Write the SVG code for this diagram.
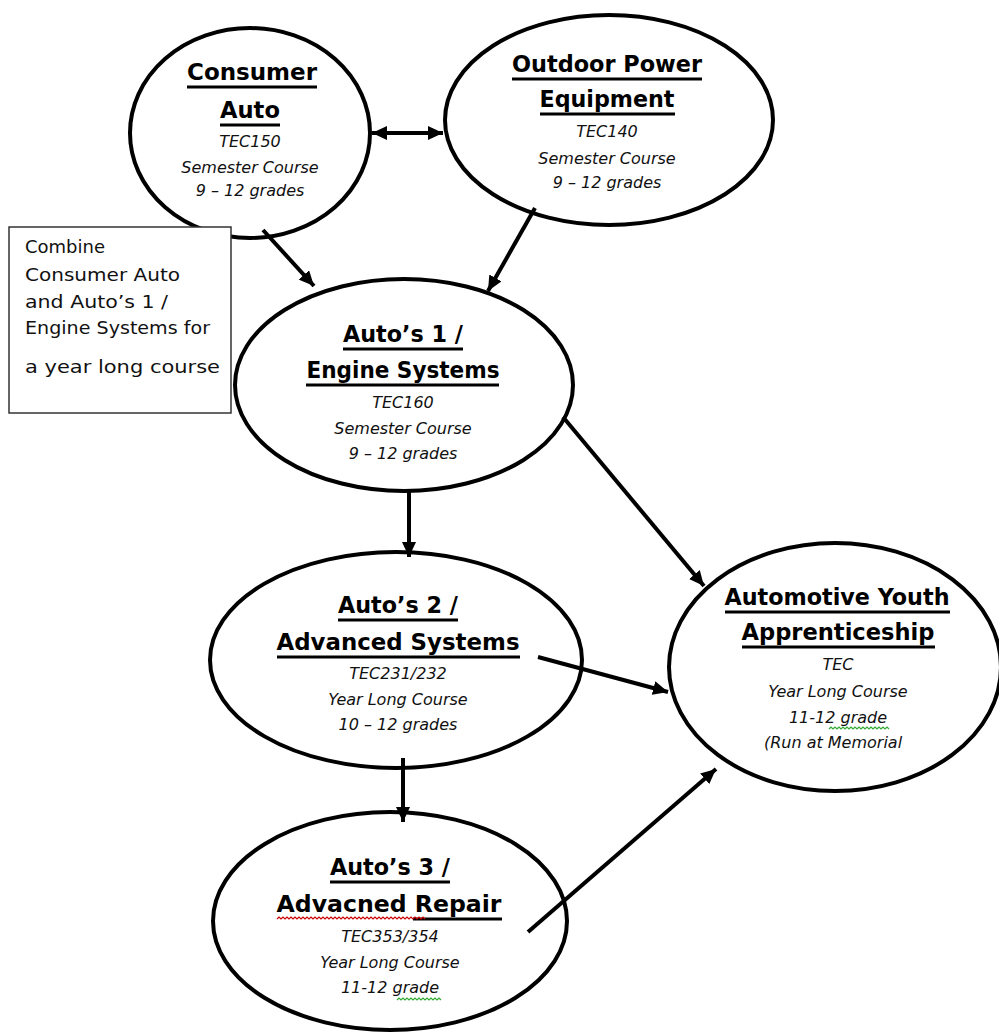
<svg xmlns="http://www.w3.org/2000/svg" width="999" height="1036" viewBox="0 0 999 1036">
<style>
.node{fill:#fff;stroke:#000;stroke-width:4}
.t{font-family:"DejaVu Sans","Liberation Sans",sans-serif;font-weight:bold;font-size:23px;fill:#000;text-anchor:middle}
.s{font-family:"DejaVu Sans","Liberation Sans",sans-serif;font-style:italic;font-size:16px;fill:#111;text-anchor:middle}
.ul{stroke:#000;stroke-width:3}
.b{font-family:"DejaVu Sans","Liberation Sans",sans-serif;font-size:18px;fill:#111}
.c{stroke:#000;stroke-width:4;fill:none}
.sq{fill:none;stroke-width:1.2}
</style>
<defs>
<marker id="ah" markerWidth="16" markerHeight="14" refX="15" refY="7" orient="auto-start-reverse" markerUnits="userSpaceOnUse"><path d="M0,0 L15,7 L0,14 z" fill="#000"/></marker>
</defs>
<rect width="999" height="1036" fill="#fff"/>

<g id="consumer-auto">
<ellipse class="node" cx="250" cy="133" rx="120" ry="105"/>
<text class="t" x="252" y="80" textLength="130" lengthAdjust="spacingAndGlyphs">Consumer</text>
<line class="ul" x1="187" y1="87" x2="317" y2="87"/>
<text class="t" x="250" y="118" textLength="60" lengthAdjust="spacingAndGlyphs">Auto</text>
<line class="ul" x1="220" y1="125" x2="280" y2="125"/>
<text class="s" x="250" y="147">TEC150</text>
<text class="s" x="250" y="173">Semester Course</text>
<text class="s" x="250" y="196">9 – 12 grades</text>
</g>

<g id="outdoor-power">
<ellipse class="node" cx="609" cy="120" rx="164" ry="105"/>
<text class="t" x="607" y="72" textLength="190" lengthAdjust="spacingAndGlyphs">Outdoor Power</text>
<line class="ul" x1="512" y1="79" x2="702" y2="79"/>
<text class="t" x="607" y="107" textLength="135" lengthAdjust="spacingAndGlyphs">Equipment</text>
<line class="ul" x1="540" y1="114" x2="675" y2="114"/>
<text class="s" x="607" y="137">TEC140</text>
<text class="s" x="607" y="164">Semester Course</text>
<text class="s" x="607" y="188">9 – 12 grades</text>
</g>

<g id="auto1">
<ellipse class="node" cx="404" cy="385" rx="169" ry="106"/>
<text class="t" x="403" y="342" textLength="120" lengthAdjust="spacingAndGlyphs">Auto’s 1 /</text>
<line class="ul" x1="343" y1="349" x2="463" y2="349"/>
<text class="t" x="403" y="378" textLength="193" lengthAdjust="spacingAndGlyphs">Engine Systems</text>
<line class="ul" x1="306" y1="385" x2="499" y2="385"/>
<text class="s" x="403" y="408">TEC160</text>
<text class="s" x="403" y="434">Semester Course</text>
<text class="s" x="403" y="459">9 – 12 grades</text>
</g>

<g id="auto2">
<ellipse class="node" cx="396" cy="660" rx="186" ry="108"/>
<text class="t" x="398" y="613" textLength="120" lengthAdjust="spacingAndGlyphs">Auto’s 2 /</text>
<line class="ul" x1="338" y1="620" x2="458" y2="620"/>
<text class="t" x="398" y="650" textLength="243" lengthAdjust="spacingAndGlyphs">Advanced Systems</text>
<line class="ul" x1="277" y1="657" x2="520" y2="657"/>
<text class="s" x="398" y="679">TEC231/232</text>
<text class="s" x="398" y="705">Year Long Course</text>
<text class="s" x="398" y="730">10 – 12 grades</text>
</g>

<g id="auto3">
<ellipse class="node" cx="390" cy="921" rx="177" ry="109"/>
<text class="t" x="390" y="875" textLength="120" lengthAdjust="spacingAndGlyphs">Auto’s 3 /</text>
<line class="ul" x1="330" y1="882" x2="450" y2="882"/>
<text class="t" x="389" y="912" textLength="225" lengthAdjust="spacingAndGlyphs">Advacned Repair</text>
<line class="ul" x1="413" y1="919" x2="502" y2="919"/>
<path class="sq" stroke="#c00" d="M277,919 l2,-2 l2,2 l2,-2 l2,2 l2,-2 l2,2 l2,-2 l2,2 l2,-2 l2,2 l2,-2 l2,2 l2,-2 l2,2 l2,-2 l2,2 l2,-2 l2,2 l2,-2 l2,2 l2,-2 l2,2 l2,-2 l2,2 l2,-2 l2,2 l2,-2 l2,2 l2,-2 l2,2 l2,-2 l2,2 l2,-2 l2,2 l2,-2 l2,2 l2,-2 l2,2 l2,-2 l2,2 l2,-2 l2,2 l2,-2 l2,2 l2,-2 l2,2 l2,-2 l2,2 l2,-2 l2,2 l2,-2 l2,2 l2,-2 l2,2 l2,-2 l2,2 l2,-2 l2,2 l2,-2 l2,2 l2,-2 l2,2 l2,-2 l2,2 l2,-2 l2,2 l2,-2 l2,2 l2,-2 l2,2 l2,-2 l2,2 l2,-2 l2,2"/>
<text class="s" x="390" y="942">TEC353/354</text>
<text class="s" x="390" y="968">Year Long Course</text>
<text class="s" x="390" y="993">11-12 grade</text>
<path class="sq" stroke="#3a3" d="M397,1000 l2,-2 l2,2 l2,-2 l2,2 l2,-2 l2,2 l2,-2 l2,2 l2,-2 l2,2 l2,-2 l2,2 l2,-2 l2,2 l2,-2 l2,2 l2,-2 l2,2 l2,-2 l2,2 l2,-2 l2,2"/>
</g>

<g id="aya">
<ellipse class="node" cx="835" cy="667" rx="166" ry="124"/>
<text class="t" x="837" y="605" textLength="225" lengthAdjust="spacingAndGlyphs">Automotive Youth</text>
<line class="ul" x1="725" y1="612" x2="950" y2="612"/>
<text class="t" x="838" y="640" textLength="193" lengthAdjust="spacingAndGlyphs">Apprenticeship</text>
<line class="ul" x1="742" y1="647" x2="935" y2="647"/>
<text class="s" x="838" y="670">TEC</text>
<text class="s" x="838" y="697">Year Long Course</text>
<text class="s" x="838" y="723">11-12 grade</text>
<path class="sq" stroke="#3a3" d="M829,729 l2,-2 l2,2 l2,-2 l2,2 l2,-2 l2,2 l2,-2 l2,2 l2,-2 l2,2 l2,-2 l2,2 l2,-2 l2,2 l2,-2 l2,2 l2,-2 l2,2 l2,-2 l2,2 l2,-2 l2,2 l2,-2 l2,2 l2,-2 l2,2 l2,-2 l2,2 l2,-2 l2,2"/>
<text class="s" x="833" y="748">(Run at Memorial</text>
</g>

<g id="note">
<rect x="9" y="227" width="222" height="186" fill="#fff" stroke="#333" stroke-width="1.5"/>
<text class="b" x="25" y="253">Combine</text>
<text class="b" x="25" y="281" textLength="155" lengthAdjust="spacingAndGlyphs">Consumer Auto</text>
<text class="b" x="25" y="308" textLength="143" lengthAdjust="spacingAndGlyphs">and Auto’s 1 /</text>
<text class="b" x="25" y="334" textLength="185" lengthAdjust="spacingAndGlyphs">Engine Systems for</text>
<text class="b" x="25" y="373" textLength="195" lengthAdjust="spacingAndGlyphs">a year long course</text>
</g>

<g id="connectors">
<line class="c" x1="372" y1="133" x2="443" y2="133" marker-start="url(#ah)" marker-end="url(#ah)"/>
<line class="c" x1="263" y1="230" x2="314" y2="286" marker-end="url(#ah)"/>
<line class="c" x1="535" y1="208" x2="488" y2="291" marker-end="url(#ah)"/>
<line class="c" x1="409" y1="490" x2="409" y2="557" marker-end="url(#ah)"/>
<line class="c" x1="563" y1="417" x2="704" y2="586" marker-end="url(#ah)"/>
<line class="c" x1="538" y1="657" x2="668" y2="692" marker-end="url(#ah)"/>
<line class="c" x1="403" y1="758" x2="403" y2="822" marker-end="url(#ah)"/>
<line class="c" x1="528" y1="932" x2="716" y2="769" marker-end="url(#ah)"/>
</g>
</svg>
